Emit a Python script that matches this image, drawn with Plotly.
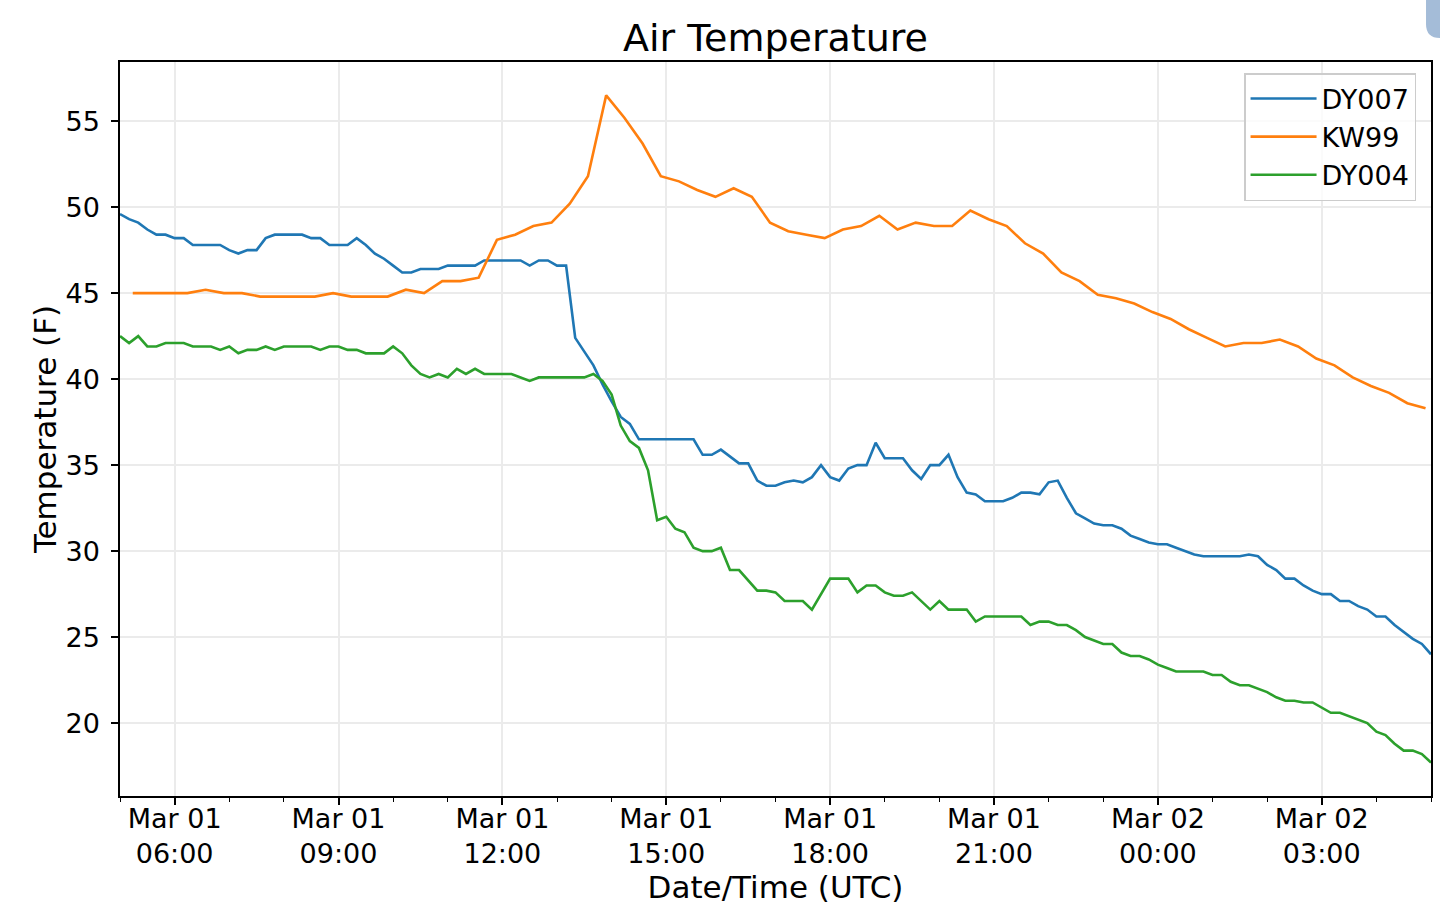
import pandas as pd
import plotly.graph_objects as go

# DY007 / DY004 report every 10 min, KW99 every 20 min
station_times = pd.date_range("2019-03-01 05:00", periods=145, freq="10min")
kw99_times = pd.date_range("2019-03-01 05:14", periods=72, freq="20min")

dy007 = [
    49.6, 49.3, 49.1, 48.7, 48.4, 48.4, 48.2, 48.2, 47.8, 47.8,
    47.8, 47.8, 47.5, 47.3, 47.5, 47.5, 48.2, 48.4, 48.4, 48.4,
    48.4, 48.2, 48.2, 47.8, 47.8, 47.8, 48.2, 47.8, 47.3, 47.0,
    46.6, 46.2, 46.2, 46.4, 46.4, 46.4, 46.6, 46.6, 46.6, 46.6,
    46.9, 46.9, 46.9, 46.9, 46.9, 46.6, 46.9, 46.9, 46.6, 46.6,
    42.4, 41.6, 40.8, 39.7, 38.7, 37.8, 37.4, 36.5, 36.5, 36.5,
    36.5, 36.5, 36.5, 36.5, 35.6, 35.6, 35.9, 35.5, 35.1, 35.1,
    34.1, 33.8, 33.8, 34.0, 34.1, 34.0, 34.3, 35.0, 34.3, 34.1,
    34.8, 35.0, 35.0, 36.3, 35.4, 35.4, 35.4, 34.7, 34.2, 35.0,
    35.0, 35.6, 34.3, 33.4, 33.3, 32.9, 32.9, 32.9, 33.1, 33.4,
    33.4, 33.3, 34.0, 34.1, 33.1, 32.2, 31.9, 31.6, 31.5, 31.5,
    31.3, 30.9, 30.7, 30.5, 30.4, 30.4, 30.2, 30.0, 29.8, 29.7,
    29.7, 29.7, 29.7, 29.7, 29.8, 29.7, 29.2, 28.9, 28.4, 28.4,
    28.0, 27.7, 27.5, 27.5, 27.1, 27.1, 26.8, 26.6, 26.2, 26.2,
    25.7, 25.3, 24.9, 24.6, 24.0,
]

kw99 = [
    45.0, 45.0, 45.0, 45.0, 45.2, 45.0, 45.0, 44.8, 44.8, 44.8,
    44.8, 45.0, 44.8, 44.8, 44.8, 45.2, 45.0, 45.7, 45.7, 45.9,
    48.1, 48.4, 48.9, 49.1, 50.2, 51.8, 56.5, 55.2, 53.7, 51.8,
    51.5, 51.0, 50.6, 51.1, 50.6, 49.1, 48.6, 48.4, 48.2, 48.7,
    48.9, 49.5, 48.7, 49.1, 48.9, 48.9, 49.8, 49.3, 48.9, 47.9,
    47.3, 46.2, 45.7, 44.9, 44.7, 44.4, 43.9, 43.5, 42.9, 42.4,
    41.9, 42.1, 42.1, 42.3, 41.9, 41.2, 40.8, 40.1, 39.6, 39.2,
    38.6, 38.3,
]

dy004 = [
    42.5, 42.1, 42.5, 41.9, 41.9, 42.1, 42.1, 42.1, 41.9, 41.9,
    41.9, 41.7, 41.9, 41.5, 41.7, 41.7, 41.9, 41.7, 41.9, 41.9,
    41.9, 41.9, 41.7, 41.9, 41.9, 41.7, 41.7, 41.5, 41.5, 41.5,
    41.9, 41.5, 40.8, 40.3, 40.1, 40.3, 40.1, 40.6, 40.3, 40.6,
    40.3, 40.3, 40.3, 40.3, 40.1, 39.9, 40.1, 40.1, 40.1, 40.1,
    40.1, 40.1, 40.3, 39.9, 39.1, 37.3, 36.4, 36.0, 34.7, 31.8,
    32.0, 31.3, 31.1, 30.2, 30.0, 30.0, 30.2, 28.9, 28.9, 28.3,
    27.7, 27.7, 27.6, 27.1, 27.1, 27.1, 26.6, 27.5, 28.4, 28.4,
    28.4, 27.6, 28.0, 28.0, 27.6, 27.4, 27.4, 27.6, 27.1, 26.6,
    27.1, 26.6, 26.6, 26.6, 25.9, 26.2, 26.2, 26.2, 26.2, 26.2,
    25.7, 25.9, 25.9, 25.7, 25.7, 25.4, 25.0, 24.8, 24.6, 24.6,
    24.1, 23.9, 23.9, 23.7, 23.4, 23.2, 23.0, 23.0, 23.0, 23.0,
    22.8, 22.8, 22.4, 22.2, 22.2, 22.0, 21.8, 21.5, 21.3, 21.3,
    21.2, 21.2, 20.9, 20.6, 20.6, 20.4, 20.2, 20.0, 19.5, 19.3,
    18.8, 18.4, 18.4, 18.2, 17.7,
]

tick_times = [
    "2019-03-01 06:00", "2019-03-01 09:00", "2019-03-01 12:00", "2019-03-01 15:00",
    "2019-03-01 18:00", "2019-03-01 21:00", "2019-03-02 00:00", "2019-03-02 03:00",
]
tick_labels = [
    "Mar 01<br>06:00", "Mar 01<br>09:00", "Mar 01<br>12:00", "Mar 01<br>15:00",
    "Mar 01<br>18:00", "Mar 01<br>21:00", "Mar 02<br>00:00", "Mar 02<br>03:00",
]

FONT = "DejaVu Sans"

fig = go.Figure()
fig.add_trace(go.Scatter(x=station_times, y=dy007, name="DY007", mode="lines",
                         line=dict(color="#1f77b4", width=2.6)))
fig.add_trace(go.Scatter(x=kw99_times, y=kw99, name="KW99", mode="lines",
                         line=dict(color="#ff7f0e", width=2.6)))
fig.add_trace(go.Scatter(x=station_times, y=dy004, name="DY004", mode="lines",
                         line=dict(color="#2ca02c", width=2.6)))

# matplotlib style 5% y margin
all_vals = dy007 + kw99 + dy004
pad = 0.05 * (max(all_vals) - min(all_vals))
y_range = [min(all_vals) - pad, max(all_vals) + pad]

fig.update_layout(
    width=1440,
    height=907,
    margin=dict(l=120, r=9, t=62, b=111),
    paper_bgcolor="white",
    plot_bgcolor="white",
    font=dict(family=FONT, color="black"),
    title=dict(text="Air Temperature", font=dict(size=38, family=FONT, color="black"),
               x=0.5, xref="paper", xanchor="center",
               y=1 - 38 / 907, yref="container", yanchor="middle"),
    legend=dict(x=0.9886, y=0.985, xanchor="right", yanchor="top",
                bgcolor="rgba(255,255,255,0.8)", bordercolor="#cccccc", borderwidth=1.5,
                itemwidth=66,
                font=dict(size=27, family=FONT, color="black")),
    showlegend=True,
    # phone status bar corner visible in the screenshot
    shapes=[dict(type="path", xref="paper", yref="paper",
                 path="M 0.9962,1.1 L 0.9962,1.0518 Q 0.9962,1.0327 1.0069,1.0327 L 1.02,1.0327 L 1.02,1.1 Z",
                 fillcolor="#a4bcd8", line=dict(width=0))],
)

fig.update_xaxes(
    type="date",
    range=["2019-03-01 05:00", "2019-03-02 05:00"],
    tickvals=tick_times,
    ticktext=tick_labels,
    ticks="outside", ticklen=7, tickwidth=1.5, tickcolor="black",
    ticklabelstandoff=-9,
    tickfont=dict(size=27, family=FONT, color="black"),
    minor=dict(dtick=3600000, tick0="2019-03-01 05:00", ticks="outside",
               ticklen=4, tickwidth=1.2, tickcolor="black", showgrid=False),
    showgrid=True, gridcolor="#ebebeb", gridwidth=1.5,
    showline=True, linecolor="black", linewidth=1.5, mirror=True,
    zeroline=False,
    automargin=False,
    title=dict(text="Date/Time (UTC)", font=dict(size=31, family=FONT, color="black"),
               standoff=6),
)
fig.update_yaxes(
    range=y_range,
    tick0=0, dtick=5,
    ticks="outside", ticklen=7, tickwidth=1.5, tickcolor="black",
    ticklabelstandoff=6,
    tickfont=dict(size=27, family=FONT, color="black"),
    showgrid=True, gridcolor="#ebebeb", gridwidth=1.5,
    showline=True, linecolor="black", linewidth=1.5, mirror=True,
    zeroline=False,
    automargin=False,
    title=dict(text="Temperature (F)", font=dict(size=31, family=FONT, color="black"),
               standoff=0),
)

fig.write_html("out.html", config={"displayModeBar": False},
               post_script="document.body.style.margin='0';")
